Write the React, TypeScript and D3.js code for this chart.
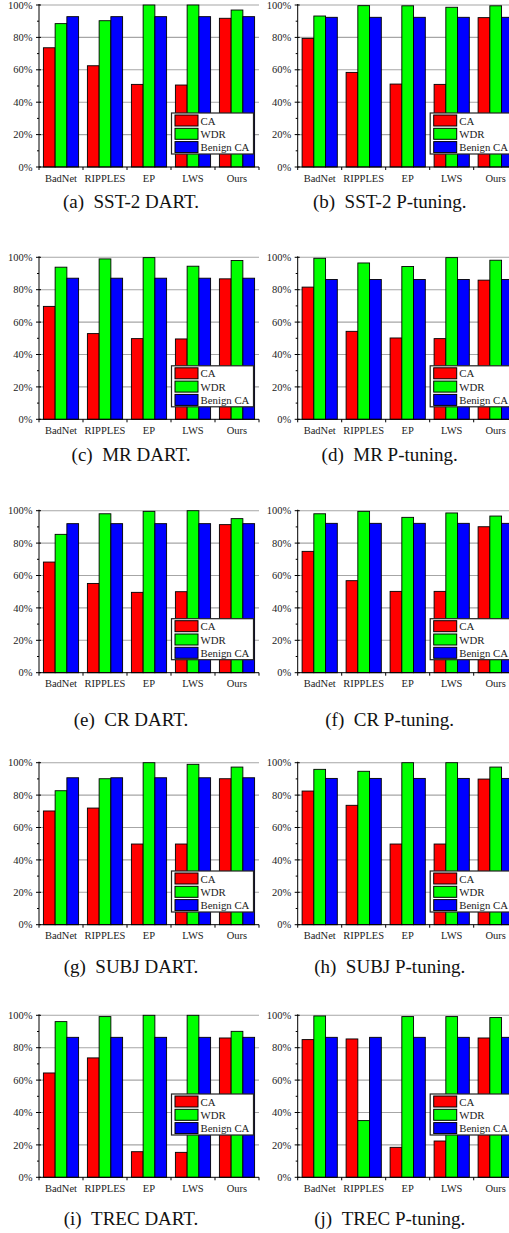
import * as d3 from "d3"

const categories = ["BadNet", "RIPPLES", "EP", "LWS", "Ours"]
const seriesNames = ["CA", "WDR", "Benign CA"]
const seriesColors = ["#ff0000", "#00ff00", "#0000ff"]
const yTicks = [0, 20, 40, 60, 80, 100]

// values in %, order: BadNet, RIPPLES, EP, LWS, Ours
const sst2DartCA = [73.6, 62.5, 51.0, 50.6, 91.8]
const sst2DartWDR = [88.5, 90.3, 100, 100, 96.9]
const sst2DartBenign = [92.8, 92.8, 92.8, 92.8, 92.8]

const sst2PtCA = [79.4, 58.4, 51.2, 51.0, 92.2]
const sst2PtWDR = [93.2, 99.6, 99.5, 98.6, 99.5]
const sst2PtBenign = [92.4, 92.4, 92.4, 92.4, 92.4]

const mrDartCA = [69.7, 52.9, 49.8, 49.6, 86.7]
const mrDartWDR = [93.9, 99.0, 99.8, 94.5, 98.0]
const mrDartBenign = [87.1, 87.1, 87.1, 87.1, 87.1]

const mrPtCA = [81.6, 54.3, 50.2, 49.8, 85.9]
const mrPtWDR = [99.4, 96.5, 94.3, 99.8, 98.2]
const mrPtBenign = [86.3, 86.3, 86.3, 86.3, 86.3]

const crDartCA = [68.3, 55.1, 49.6, 50.0, 91.4]
const crDartWDR = [85.4, 98.1, 99.6, 100, 95.1]
const crDartBenign = [92.0, 92.0, 92.0, 92.0, 92.0]

const crPtCA = [74.9, 56.8, 50.2, 50.2, 90.1]
const crPtWDR = [98.1, 99.6, 95.9, 98.6, 96.7]
const crPtBenign = [92.2, 92.2, 92.2, 92.2, 92.2]

const subjDartCA = [70.2, 72.0, 49.8, 49.8, 90.1]
const subjDartWDR = [82.7, 90.1, 100, 99.0, 97.3]
const subjDartBenign = [90.7, 90.7, 90.7, 90.7, 90.7]

const subjPtCA = [82.5, 73.7, 49.8, 49.8, 89.9]
const subjPtWDR = [95.9, 94.7, 100, 100, 97.3]
const subjPtBenign = [90.3, 90.3, 90.3, 90.3, 90.3]

const trecDartCA = [64.4, 73.7, 15.8, 15.4, 86.0]
const trecDartWDR = [96.1, 99.2, 100, 100, 90.1]
const trecDartBenign = [86.4, 86.4, 86.4, 86.4, 86.4]

const trecPtCA = [85.0, 85.4, 18.5, 22.4, 86.0]
const trecPtWDR = [99.6, 35.0, 99.2, 99.2, 98.6]
const trecPtBenign = [86.4, 86.4, 86.4, 86.4, 86.4]

const captions = [
  "(a)\u00a0\u00a0SST-2 DART.",
  "(b)\u00a0\u00a0SST-2 P-tuning.",
  "(c)\u00a0\u00a0MR DART.",
  "(d)\u00a0\u00a0MR P-tuning.",
  "(e)\u00a0\u00a0CR DART.",
  "(f)\u00a0\u00a0CR P-tuning.",
  "(g)\u00a0\u00a0SUBJ DART.",
  "(h)\u00a0\u00a0SUBJ P-tuning.",
  "(i)\u00a0\u00a0TREC DART.",
  "(j)\u00a0\u00a0TREC P-tuning.",
]

const panels = [
  [sst2DartCA, sst2DartWDR, sst2DartBenign],
  [sst2PtCA, sst2PtWDR, sst2PtBenign],
  [mrDartCA, mrDartWDR, mrDartBenign],
  [mrPtCA, mrPtWDR, mrPtBenign],
  [crDartCA, crDartWDR, crDartBenign],
  [crPtCA, crPtWDR, crPtBenign],
  [subjDartCA, subjDartWDR, subjDartBenign],
  [subjPtCA, subjPtWDR, subjPtBenign],
  [trecDartCA, trecDartWDR, trecDartBenign],
  [trecPtCA, trecPtWDR, trecPtBenign],
]

const W = 509
const H = 1233
const colAxis = [39, 297.7]
const rowTop = [5, 257.3, 510.7, 762.7, 1015.3]
const captionY = [208, 461, 726, 973, 1225]
const legendOffset = [108, 108.5, 108, 108.3, 78.7]
const plotW = 220
const plotH = 162
const serif = "'Liberation Serif', 'Times New Roman', serif"

function Panel({ data, col, row, caption }: { data: number[][]; col: number; row: number; caption: string }) {
  const x0 = colAxis[col]
  const top = rowTop[row]
  const x = d3.scaleBand<string>().domain(categories).range([x0, x0 + plotW]).paddingInner(0.2).paddingOuter(0.1)
  const xs = d3.scaleBand<string>().domain(seriesNames).range([0, x.bandwidth()])
  const y = d3.scaleLinear().domain([0, 100]).range([top + plotH, top])
  const step = x.step()
  const minor = d3.range(10, 100, 20)

  const lx = x0 + 132.5
  const ly = top + legendOffset[row]
  const rowStep = 13.3

  return (
    <g>
      {yTicks.filter((t) => t > 0).map((t) => (
        <line key={t} x1={x0} x2={x0 + plotW} y1={y(t)} y2={y(t)} stroke="#a6a6a6" strokeWidth={1.1} />
      ))}
      {categories.map((c, i) => (
        <g key={c}>
          {seriesNames.map((s, j) => (
            <rect
              key={s}
              x={(x(c) ?? 0) + (xs(s) ?? 0)}
              y={y(data[j][i])}
              width={xs.bandwidth()}
              height={y(0) - y(data[j][i])}
              fill={seriesColors[j]}
              stroke="#000"
              strokeWidth={0.9}
            />
          ))}
        </g>
      ))}
      {/* axes */}
      <line x1={x0} x2={x0} y1={top - 1} y2={y(0)} stroke="#000" strokeWidth={1} />
      <line x1={x0} x2={x0 + plotW} y1={y(0)} y2={y(0)} stroke="#000" strokeWidth={1} />
      {yTicks.map((t) => (
        <g key={t}>
          <line x1={x0 - 3} x2={x0 + 2} y1={y(t)} y2={y(t)} stroke="#000" strokeWidth={1} />
          <text x={x0 - 6.5} y={y(t) + 3.6} textAnchor="end" fontSize={10.5} fontFamily={serif} fill="#222">
            {t}%
          </text>
        </g>
      ))}
      {minor.map((t) => (
        <line key={t} x1={x0 - 2} x2={x0} y1={y(t)} y2={y(t)} stroke="#000" strokeWidth={1} />
      ))}
      {d3.range(0, categories.length + 1).map((k) => (
        <line key={k} x1={x0 + k * step} x2={x0 + k * step} y1={y(0)} y2={y(0) + 3} stroke="#000" strokeWidth={1} />
      ))}
      {categories.map((c) => (
        <text
          key={c}
          x={(x(c) ?? 0) + x.bandwidth() / 2}
          y={y(0) + 14.5}
          textAnchor="middle"
          fontSize={10.5}
          fontFamily={serif}
          fill="#222"
        >
          {c}
        </text>
      ))}
      {/* legend */}
      <rect x={lx} y={ly} width={82} height={41} fill="#fff" stroke="#222" strokeWidth={1.2} />
      {seriesNames.map((s, j) => (
        <g key={s}>
          <rect x={lx + 3.5} y={ly + 2 + j * rowStep} width={23} height={11} fill={seriesColors[j]} stroke="#000" strokeWidth={1} />
          <text x={lx + 29} y={ly + 11.5 + j * rowStep} fontSize={10.8} fontFamily={serif} fill="#222">
            {s}
          </text>
        </g>
      ))}
      <text x={x0 + 92} y={captionY[row]} textAnchor="middle" fontSize={19} fontFamily={serif} fill="#111">
        {caption}
      </text>
    </g>
  )
}

export default function App() {
  return (
    <svg
      width={W}
      height={H}
      viewBox={`0 0 ${W} ${H}`}
      style={{ position: "absolute", left: 0, top: 0, background: "#fff" }}
    >
      <rect width={W} height={H} fill="#fff" />
      {panels.map((p, i) => (
        <Panel key={i} data={p} col={i % 2} row={Math.floor(i / 2)} caption={captions[i]} />
      ))}
    </svg>
  )
}
